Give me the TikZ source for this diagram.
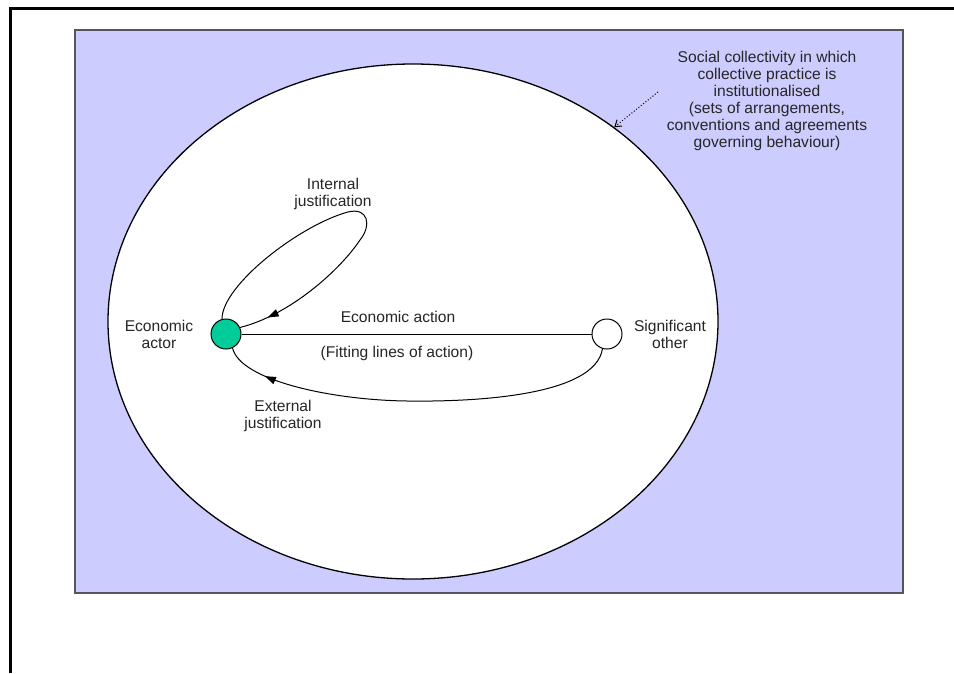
\documentclass[tikz,border=0pt]{standalone}
\usepackage{fontspec}
\setmainfont{Liberation Sans}
\usepackage{xcolor}
\definecolor{lavender}{HTML}{CCCCFF}
\definecolor{framegray}{HTML}{55555F}
\definecolor{actorgreen}{HTML}{00CC99}
\usetikzlibrary{positioning, arrows.meta, shapes.geometric, decorations.markings}
\tikzset{
    midarrow/.style={postaction={decorate}, decoration={markings, mark=at position #1 with {\arrow{Triangle[length=11pt,width=7.5pt]}}}}
}

\begin{document}
\begin{tikzpicture}[x=1pt, y=-1pt, font=\fontsize{15.6}{17}\selectfont]
    \tikzstyle{settingnode} = [rectangle, inner sep=0pt, outer sep=0pt, draw=framegray, line width=1.6pt, fill=lavender]
    \tikzstyle{collnode} = [ellipse, inner sep=0pt, draw=black, line width=1.3pt, fill=white]
    \tikzstyle{actornode} = [circle, minimum size=30pt, inner sep=0pt, draw=black, line width=1pt, fill=actorgreen]
    \tikzstyle{othernode} = [circle, minimum size=30pt, inner sep=0pt, draw=black, line width=1pt, fill=white]
    \tikzstyle{textnode} = [align=center, inner sep=0pt, text=black!85]
    \tikzstyle{loopline} = [line width=1pt]

    \useasboundingbox (0,0) rectangle (954,673);
    \draw [line width=3pt] (954,8) -- (10.5,8) -- (10.5,673);

    \node [settingnode, minimum width=828pt, minimum height=563pt, anchor=north west] (setting) at (75,30) {};
    \node [collnode, minimum width=610pt, minimum height=515pt] (coll) at (413,321.5) {};

    \node [actornode] (actor) at (226,334) {};
    \node [othernode] (other) at (607,334) {};
    \node [textnode] (actorlabel) at ([xshift=-67pt]actor.center) {Economic\\actor};
    \node [textnode] (otherlabel) at ([xshift=63pt]other.center) {Significant\\other};

    \draw [loopline] (actor.east) -- (other.west);
    \node [textnode] (actionlabel) at (398,317) {Economic action};
    \node [textnode] (fittinglabel) at (397,353) {(Fitting lines of action)};

    % internal loop
    \draw [loopline, midarrow=0.92] (actor.105) .. controls (222,285) and (300,225) .. (348,212)
        .. controls (368,207) and (372,225) .. (360,240)
        .. controls (340,270) and (290,315) .. (actor.25);
    \node [textnode] (internallabel) at (333,194) {Internal\\justification};

    % external loop
    \draw [loopline, midarrow=0.89] (other.253) .. controls (595,395) and (480,402) .. (407,401)
        .. controls (330,400) and (240,380) .. (actor.295);
    \node [textnode] (externallabel) at (283,415.5) {External\\justification};

    \node [textnode] (notelabel) at (767,100.5) {Social collectivity in which\\collective practice is\\institutionalised\\(sets of arrangements,\\conventions and agreements\\governing behaviour)};
    \coordinate (notestart) at (658,92);
    \draw [dotted, line width=1pt, -{Straight Barb[length=6pt,width=8pt]}] (notestart) -- (coll.44);
\end{tikzpicture}
\end{document}
